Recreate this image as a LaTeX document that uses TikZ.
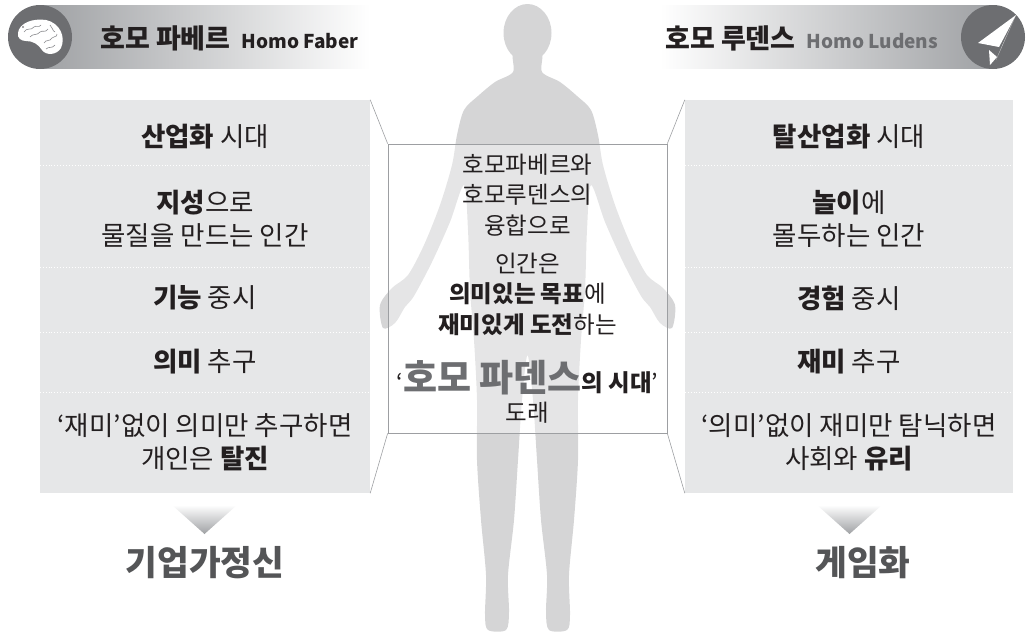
\documentclass[tikz,border=0pt]{standalone}
\usepackage{fontspec}
\setmainfont{Noto Sans CJK KR}
\definecolor{colgray}{HTML}{E6E7E8}
\definecolor{silh}{HTML}{D5D5D6}
\definecolor{iconbg}{HTML}{6D6E71}
\definecolor{txt}{HTML}{231F20}
\definecolor{titlegray}{HTML}{6D6E71}
\definecolor{bottomtxt}{HTML}{545557}
\definecolor{linkgray}{HTML}{9D9FA2}
\definecolor{bargray}{HTML}{9FA1A4}
\newcommand\fsz[2]{\fontsize{#1}{#2}\selectfont}
\begin{document}
\begin{tikzpicture}[x=1pt,y=-1pt,
  colbox/.style={fill=colgray,draw=none,inner sep=0,minimum height=393,minimum width=#1},
  rowtxt/.style={align=center,text=txt,inner sep=0,font=\fsz{26.5}{33}},
  midtxt/.style={align=center,text=txt,inner sep=0,font=\fsz{23.5}{30.5}},
  sepline/.style={white,dotted,line width=0.9pt},
  link/.style={linkgray,line width=0.6pt},
  headtxt/.style={inner sep=0,anchor=base west,text=txt},
  resulttxt/.style={inner sep=0,text=bottomtxt,font=\fsz{34.5}{38}\bfseries},
  iconcircle/.style={circle,fill=iconbg,minimum size=64,inner sep=0}]
\useasboundingbox (0,0) rectangle (1028,637);

% human silhouette in the background
\fill[silh] (527.5,33) ellipse [x radius=24, y radius=29];
\fill[silh] plot[smooth cycle, tension=0.5] coordinates {
  (514,52) (513,72) (495,82) (478,96) (464,110) (457,135) (452,165)
  (440,205) (424,245) (408,275) (392,288) (380,305) (383,328) (395,323)
  (405,307) (414,296) (432,262) (450,222) (464,185) (468,230) (470,290)
  (474,340) (477,400) (477,460) (481,520) (486,575) (485,615) (488,630)
  (506,630) (509,612) (508,575) (514,520) (518,460) (522,400) (527.5,355)
  (533,400) (537,460) (541,520) (547,575) (546,612) (549,630) (567,630)
  (570,615) (569,575) (574,520) (578,460) (578,400) (581,340) (585,290)
  (587,230) (591,185) (605,222) (623,262) (641,296) (650,307) (660,323)
  (672,328) (675,305) (663,288) (647,275) (631,245) (615,205) (603,165)
  (598,135) (591,110) (577,96) (560,82) (542,72) (541,52)};

% header bars
\shade[left color=bargray,right color=white] (40,5) rectangle (370,68);
\shade[left color=white,right color=bargray] (660,5) rectangle (993,68);
\node[iconcircle] (licon) at (40,37) {};
\node[iconcircle] (ricon) at (993,37) {};

% brain icon
\fill[white] (18,33) .. controls (19,23) and (33,18) .. (46,20)
  .. controls (60,23) and (66,37) .. (61,48)
  .. controls (57,55) and (46,56) .. (42,50)
  .. controls (38,44) and (33,41) .. (26,41)
  .. controls (21,41) and (17,38) .. (18,33) -- cycle;
\begin{scope}[iconbg!80,line width=0.6pt]
  \draw (24,32) .. controls (27,27) and (31,31) .. (34,27) .. controls (36,25) and (39,28) .. (41,25);
  \draw (30,37) .. controls (33,33) and (37,36) .. (40,32) .. controls (42,30) and (46,33) .. (48,29);
  \draw (44,43) .. controls (46,39) and (50,42) .. (52,38) .. controls (54,35) and (57,38) .. (57,34);
  \draw (46,49) .. controls (49,46) and (52,49) .. (55,45);
  \draw (50,25) .. controls (53,27) and (52,31) .. (55,32);
  \fill (23,27) circle (1.1);
\end{scope}

% paper plane icon
\fill[white] (1016,15) -- (978,43) -- (999,47) -- cycle;
\fill[white] (1016,15) -- (1002,46) -- (996,60) -- cycle;
\fill[white] (989,50) -- (997,57) -- (990,65) -- cycle;

% header titles
\node[headtxt] (ltitle) at (100,48)
  {{\fsz{27}{30}\bfseries 호모 파베르}\hspace{11pt}{\fsz{19}{24}\bfseries Homo Faber}};
\node[headtxt] (rtitle) at (665,48)
  {{\fsz{27}{30}\bfseries 호모 루덴스}\hspace{11pt}{\fsz{19}{24}\bfseries\color{titlegray}Homo Ludens}};

% the two columns
\node[colbox=330] (lcol) at (205,296.5) {};
\node[colbox=328] (rcol) at (849,296.5) {};
\foreach \yy in {165,267,332,392}{
  \draw[sepline] (lcol.west |- 0,\yy) -- (lcol.east |- 0,\yy);
  \draw[sepline] (rcol.west |- 0,\yy) -- (rcol.east |- 0,\yy);
}

\node[rowtxt] (l1) at (205,137) {\textbf{산업화} 시대};
\node[rowtxt] (l2) at (205,218.5) {\textbf{지성}으로\\물질을 만드는 인간};
\node[rowtxt] (l3) at (205,298) {\textbf{기능} 중시};
\node[rowtxt] (l4) at (205,362) {\textbf{의미} 추구};
\node[rowtxt] (l5) at (205,442) {‘재미’없이 의미만 추구하면\\개인은 \textbf{탈진}};

\node[rowtxt] (r1) at (849,137) {\textbf{탈산업화} 시대};
\node[rowtxt] (r2) at (849,218.5) {\textbf{놀이}에\\몰두하는 인간};
\node[rowtxt] (r3) at (849,298) {\textbf{경험} 중시};
\node[rowtxt] (r4) at (849,362) {\textbf{재미} 추구};
\node[rowtxt] (r5) at (849,442) {‘의미’없이 재미만 탐닉하면\\사회와 \textbf{유리}};

% central box over the silhouette
\node[draw=linkgray,line width=0.7pt,fill=white,fill opacity=0.4,
      minimum width=279,minimum height=289,inner sep=0] (mid) at (527.5,288.5) {};
\draw[link] (lcol.north east) -- (mid.north west);
\draw[link] (lcol.south east) -- (mid.south west);
\draw[link] (rcol.north west) -- (mid.north east);
\draw[link] (rcol.south west) -- (mid.south east);

\node[midtxt] (m1) at (527.5,195) {호모파베르와\\호모루덴스의\\융합으로};
\node[midtxt] (m2) at (527.5,294) {인간은\\\textbf{의미있는 목표}에\\\textbf{재미있게 도전}하는};
\node[midtxt] (m3) at (527.5,378)
  {‘{\fsz{37}{38}\bfseries\color{titlegray}호모 파덴스}\textbf{의 시대}’};
\node[midtxt] (m4) at (527.5,413) {도래};

% result arrows and labels
\shade[top color=white,bottom color=bargray] (172,505) -- (237,505) -- (204.5,534) -- cycle;
\shade[top color=white,bottom color=bargray] (817,505) -- (882,505) -- (849.5,534) -- cycle;
\node[resulttxt] (lres) at (205,563) {기업가정신};
\node[resulttxt] (rres) at (863,563) {게임화};
\end{tikzpicture}
\end{document}
